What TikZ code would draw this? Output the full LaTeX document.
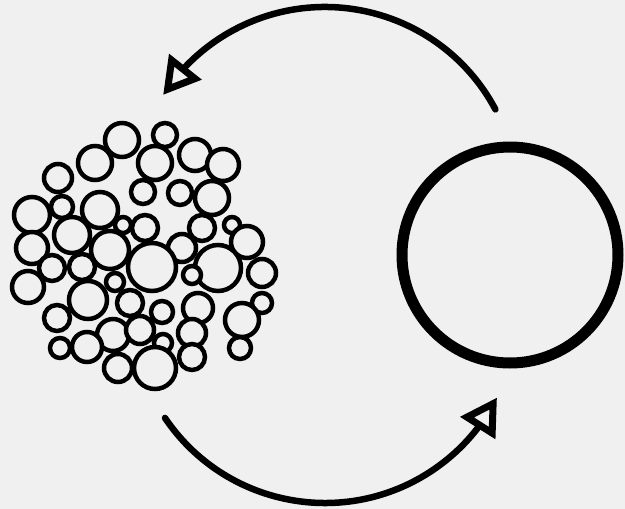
\documentclass[tikz,border=0pt]{standalone}
\usepackage{tikz}
\usetikzlibrary{arrows.meta,bending}
\definecolor{ink}{HTML}{000000}
\definecolor{paper}{HTML}{F0F0F0}
\definecolor{bubblefill}{HTML}{F0F0F0}
\tikzset{
  bubble/.style={draw=ink, line width=4.5pt, fill=bubblefill},
  ring/.style={draw=ink, line width=11pt},
  cyclearrow/.style={draw=ink, line width=6.5pt, line cap=round,
    -{Triangle[open, length=36pt, width=40pt, line width=7pt, flex]}},
}
\begin{document}
\begin{tikzpicture}[x=1pt, y=-1pt]
\fill[paper] (0,0) rectangle (625,509);
\useasboundingbox (0,0) rectangle (625,509);
% cluster of small bubbles
\foreach \bx/\by/\br in {
  122/140/17, 165/135/12, 95/163/17, 155/163/17, 195/155/16, 223/165/16,
  58/178/14, 143/192/12, 180/193/12, 212/198/17, 32/215/18, 62/207/11,
  100/210/18, 123/225/8, 145/228/13, 202/228/13, 232/225/8, 72/235/18,
  32/248/16, 110/250/19, 182/248/14, 247/242/16, 52/268/13, 82/267/13,
  115/282/9, 152/267/24, 218/268/23, 262/273/14, 192/275/9, 28/287/16,
  130/303/13, 88/300/19, 198/308/15, 162/312/11, 262/303/10, 242/320/17,
  57/318/13, 113/335/16, 140/330/14, 192/333/14, 163/343/9, 240/348/11,
  60/348/10, 87/347/15, 118/368/14, 155/368/21, 192/357/13}
  \draw[bubble] (\bx,\by) circle (\br);
% the single big bubble
\draw[ring] (510,255) circle (108);
% the two arrows of the cycle
\draw[cyclearrow] (325,200) ++(-28:193) arc (-28:-147:193);
\draw[cyclearrow] (325,310) ++(146:193) arc (146:27:193);
\end{tikzpicture}
\end{document}
